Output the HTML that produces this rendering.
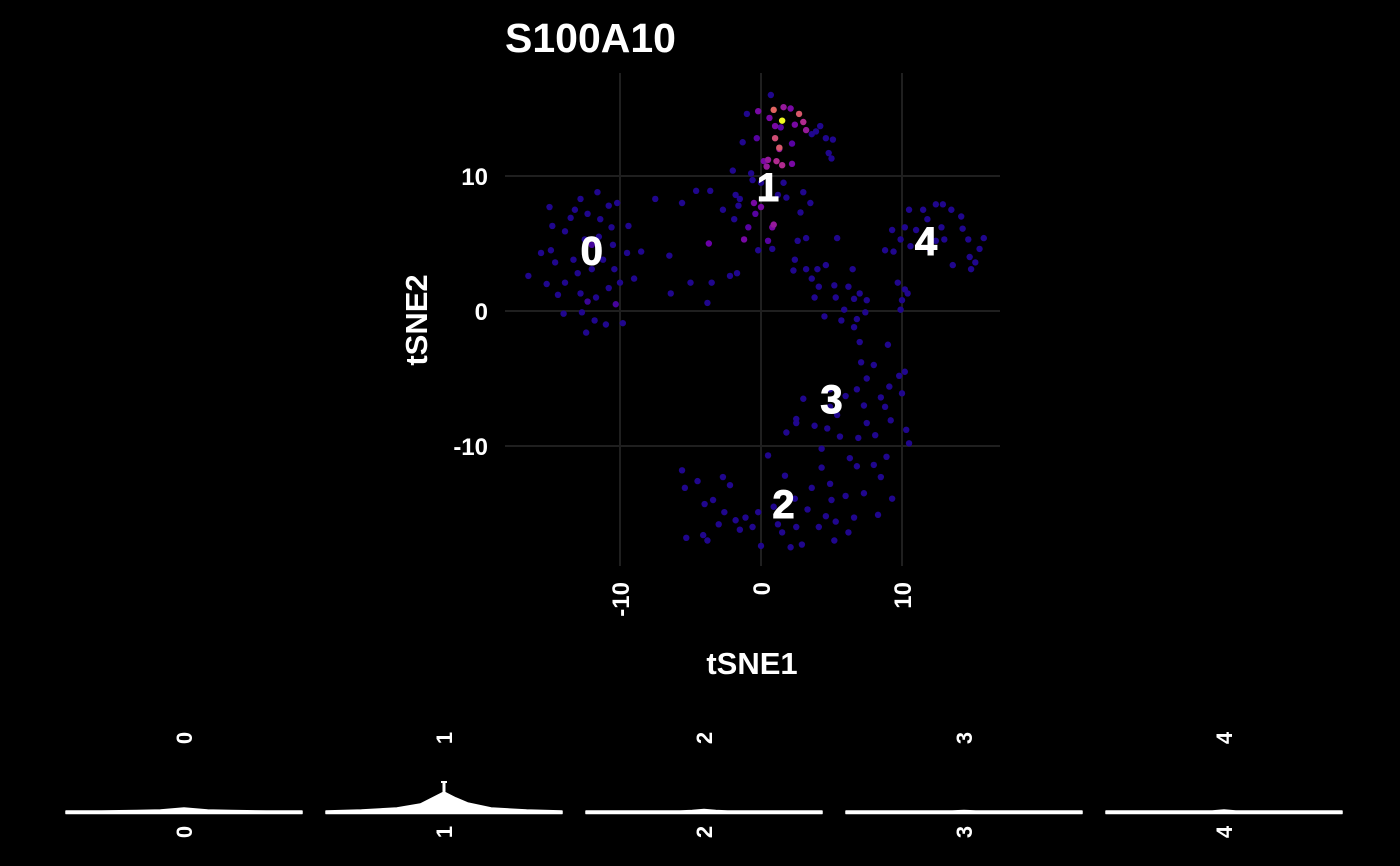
<!DOCTYPE html>
<html><head><meta charset="utf-8"><style>
html,body{margin:0;padding:0;background:#000;}
svg{display:block;font-family:"Liberation Sans",Arial,sans-serif;font-weight:bold;}
</style></head><body>
<svg id="c" width="1400" height="866" viewBox="0 0 1400 866">
<rect width="1400" height="866" fill="#000"/>
<text x="505" y="52" fill="#fff" font-size="41">S100A10</text>
<g id="grid"></g>
<g id="pts"></g>
<g id="lbl"></g>
<g id="ax"></g>
<text x="752" y="674" fill="#fff" font-size="31" text-anchor="middle">tSNE1</text>
<text transform="translate(427,320) rotate(-90)" fill="#fff" font-size="31" text-anchor="middle">tSNE2</text>
<g id="vio"></g>
</svg>
<script>
const xTicks=[-10,0,10];
const yTicks=[10,0,-10];
const clusterNames=['0','1','2','3','4'];
const clusterX=[-12.0,0.5,1.6,5.0,11.7];
const clusterY=[4.5,9.2,-14.3,-6.5,5.2];
const pointsX=[-14.8,-13.5,-12.8,-12.3,-11.6,-10.8,-10.2,-10.6,-11.5,-12.5,-13.9,-14.9,-15.6,-14.6,-13.3,-13.0,-12.0,-11.2,-10.4,-10.0,-10.8,-11.7,-12.8,-13.9,-14.4,-14.0,-12.7,-11.8,-11.0,-12.4,-9.8,-16.5,-15.2,-11.4,-13.2,-10.5,-9.5,-9.0,-15.0,-12.0,-12.3,-10.3,
-7.5,-9.4,-8.5,-6.5,-5.6,-4.6,-3.6,-5.0,-3.5,-2.2,-1.7,-3.8,-3.7,-6.4,-2.7,
0.7,-1.0,-0.2,0.6,1.6,2.1,2.7,2.4,1.0,1.4,3.2,3.0,1.3,2.2,-1.3,-0.3,3.6,3.9,4.6,4.2,5.1,4.8,5.0,
0.2,0.5,1.1,1.5,2.2,0.4,-0.7,-2.0,-1.5,-0.6,0,1.2,1.6,1.8,3.0,2.8,3.5,-0.5,-0.4,-1.6,-1.9,-0.9,-1.2,0.8,0.9,2.6,3.2,0.0,0.5,-1.8,
-0.2,0.8,2.4,2.3,3.2,4.0,4.6,3.6,4.1,5.2,6.2,3.8,5.3,6.6,7.0,5.9,7.5,6.8,6.6,7.4,7.0,5.7,4.5,8.8,6.5,5.4,
11.5,12.9,13.5,14.2,11.8,10.2,11.0,12.4,13.0,14.7,15.5,15.8,14.8,13.6,14.9,12.0,9.4,9.9,10.5,10.6,12.8,14.3,15.2,12.4,9.3,
9.7,10.2,10.0,10.4,9.9,9.0,
7.1,8.0,7.5,9.8,10.2,9.1,8.5,6.8,6.0,7.3,8.8,10.0,9.2,10.3,4.9,3.0,2.5,1.8,3.8,4.7,5.6,6.9,7.5,8.1,10.5,4.3,8.9,6.3,2.5,4.9,5.4,
-5.6,-5.4,-4.5,-2.7,0.5,-3.4,-4.0,-2.6,-1.1,-0.2,0.9,-0.6,-1.5,-3.0,-4.1,-5.3,-3.8,0,1.5,2.5,2.9,1.7,2.4,3.6,4.3,4.9,5.0,6.0,6.8,8.0,7.3,9.3,8.5,6.6,5.3,4.1,5.2,8.3,6.2,1.2,-1.8,3.3,4.6,2.1,-2.2,
0.9,1.3,1.0,1.5];
const pointsY=[6.3,6.9,8.3,7.2,8.8,7.8,8.0,6.2,5.5,5.3,5.9,4.5,4.3,3.6,3.8,2.8,3.1,3.8,3.1,2.1,1.7,1.0,1.3,2.1,1.2,-0.2,-0.1,-0.7,-1.0,-1.6,-0.9,2.6,2.0,6.8,7.5,4.9,4.3,2.4,7.7,4.9,0.7,0.5,
8.3,6.3,4.4,4.1,8.0,8.9,8.9,2.1,2.1,2.6,2.8,0.6,5.0,1.3,7.5,
16.0,14.6,14.8,14.3,15.1,15.0,14.6,13.8,13.7,13.6,13.4,14.0,12.0,12.4,12.5,12.8,13.1,13.3,12.8,13.7,12.7,11.7,11.3,
11.1,11.2,11.1,10.8,10.9,10.7,10.2,10.4,8.3,9.7,9.5,8.6,9.5,8.4,8.8,7.3,8.0,8.0,7.2,7.8,6.8,6.2,5.3,6.2,6.4,5.2,5.4,7.7,5.2,8.6,
4.5,4.6,3.8,3.0,3.1,3.1,3.4,2.4,1.8,1.9,1.8,1.0,1.0,0.9,1.3,0.1,0.8,-0.6,-1.2,-0.1,-2.3,-0.7,-0.4,4.5,3.1,5.4,
7.5,7.9,7.5,7.0,6.8,6.2,6.0,5.2,5.3,5.3,4.6,5.4,4.0,3.4,3.1,4.5,4.4,5.3,7.5,4.8,6.2,6.1,3.6,7.9,6.0,
2.1,1.6,0.8,1.3,0.1,-2.5,
-3.8,-4.0,-5.0,-4.8,-4.5,-5.6,-6.4,-5.8,-6.3,-7.0,-7.1,-6.1,-8.1,-8.8,-5.8,-6.5,-8.0,-9.0,-8.5,-8.7,-9.3,-9.4,-8.3,-9.2,-9.8,-10.2,-10.8,-10.9,-8.3,-7.1,-7.7,
-11.8,-13.1,-12.6,-12.3,-10.7,-14.0,-14.3,-14.9,-15.3,-14.9,-14.5,-16.0,-16.2,-15.8,-16.6,-16.8,-17.0,-17.4,-16.4,-16.0,-17.3,-12.2,-13.9,-13.1,-11.6,-12.8,-14.0,-13.7,-11.5,-11.4,-13.5,-13.9,-12.3,-15.3,-15.6,-16.0,-17.0,-15.1,-16.4,-15.8,-15.5,-14.7,-15.2,-17.5,-12.9,
14.9,12.1,12.8,14.1];
const exprIdx=[39,40,41,54,59,60,61,62,63,64,65,66,67,68,69,70,72,80,81,82,83,84,85,97,98,101,102,103,104,107,108,
 pointsX.length-4,pointsX.length-3,pointsX.length-2,pointsX.length-1];
const exprVal=[0.15,0.12,0.15,0.25,0.3,0.3,0.4,0.3,0.7,0.3,0.3,0.2,0.4,0.5,0.4,0.2,0.2,0.3,0.4,0.5,0.5,0.3,0.4,0.3,0.2,0.2,0.3,0.3,0.4,0.3,0.2,
 0.75,0.7,0.65,1.0];
const violinFrac=[0,0.15,0.3,0.4,0.45,0.5,0.55,0.6,0.7,0.85,1];
const violinH0=[1,1,1.5,2,3,4,3,2,1.5,1,1];
const violinH1=[1,2,4,8,14,20,14,9,4,2,1];
const violinH2=[1,1,1,1,1.5,2.5,1.5,1,1,1,1];
const violinH3=[1,1,1,1,1,1.5,1,1,1,1,1];
const violinH4=[1,1,1,1,1,2,1,1,1,1,1];
const violinMax=[4,30,3,2,2];

const NS='http://www.w3.org/2000/svg';
const X0=761,XS=14.1,Y0=311,YS=13.5;
const sx=v=>X0+v*XS, sy=v=>Y0-v*YS;
function mk(tag,attrs,parent){const e=document.createElementNS(NS,tag);for(const k in attrs)e.setAttribute(k,attrs[k]);parent.appendChild(e);return e;}
const grid=document.getElementById('grid'),pts=document.getElementById('pts'),lbl=document.getElementById('lbl'),ax=document.getElementById('ax'),vio=document.getElementById('vio');
xTicks.forEach(t=>{
 const l=mk('line',{x1:sx(t),x2:sx(t),y1:73,y2:566,stroke:'#1f1f1f','stroke-width':2},grid);
 
 
 const tx=mk('text',{transform:`translate(${sx(t)+9},582) rotate(-90)`,fill:'#fff','font-size':24,'text-anchor':'end'},ax);
 tx.textContent=t;
 
 
});
yTicks.forEach(t=>{
 const l=mk('line',{x1:505,x2:1000,y1:sy(t),y2:sy(t),stroke:'#1f1f1f','stroke-width':2},grid);
 
 
 const tx=mk('text',{x:488,y:sy(t)+9,fill:'#fff','font-size':24,'text-anchor':'end'},ax);
 tx.textContent=t;
 
 
});
const stops=[[13,8,135],[106,0,168],[177,42,144],[225,100,98],[240,249,33]];
function plasma(v){v=Math.max(0,Math.min(1,v))*4;const i=Math.min(3,Math.floor(v)),f=v-i;const a=stops[i],b=stops[i+1];return `rgb(${a.map((c,j)=>Math.round(c+(b[j]-c)*f)).join(',')})`;}
const expr=pointsX.map(()=>0.05);
exprIdx.forEach((k,i)=>{expr[k]=exprVal[i];});
const order=pointsX.map((_,i)=>i).sort((a,b)=>expr[a]-expr[b]);
order.forEach(i=>{
 const c=mk('circle',{cx:sx(pointsX[i]),cy:sy(pointsY[i]),r:3.2,fill:plasma(expr[i])},pts);
 
 
});
clusterNames.forEach((n,i)=>{
 const t=mk('text',{x:sx(clusterX[i]),y:sy(clusterY[i])+14,fill:'#fff','font-size':40,'text-anchor':'middle',stroke:'#fff','stroke-width':1},lbl);
 t.textContent=n;
 
 
});
const vH=[violinH0,violinH1,violinH2,violinH3,violinH4];
clusterNames.forEach((n,i)=>{
 const L=66+i*260,W=236,B=812;
 const g=mk('g',{},vio);
 
 
 let d=`M${L},${B+1.5}`;
 violinFrac.forEach((f,k)=>{d+=` L${L+f*W},${B-vH[i][k]}`;});
 d+=` L${L+W},${B+1.5} Z`;
 const p=mk('path',{d:d,fill:'#fff',stroke:'#fff','stroke-width':1.5,'stroke-linejoin':'round'},g);
 
 
 const cx=L+W/2;
 const s=mk('line',{x1:cx,x2:cx,y1:B,y2:B-violinMax[i],stroke:'#fff','stroke-width':3},g);
 
 
 if(violinMax[i]>10){const cap=mk('line',{x1:cx-3,x2:cx+3,y1:B-violinMax[i],y2:B-violinMax[i],stroke:'#fff','stroke-width':2},g);
 
 }
 const t1=mk('text',{transform:`translate(${cx+8},738) rotate(-90)`,fill:'#fff','font-size':22,'text-anchor':'middle'},g);
 t1.textContent=n;
 
 
 const t2=mk('text',{transform:`translate(${cx+8},832) rotate(-90)`,fill:'#fff','font-size':22,'text-anchor':'middle'},g);
 t2.textContent=n;
 
 
});
</script>
</body></html>
